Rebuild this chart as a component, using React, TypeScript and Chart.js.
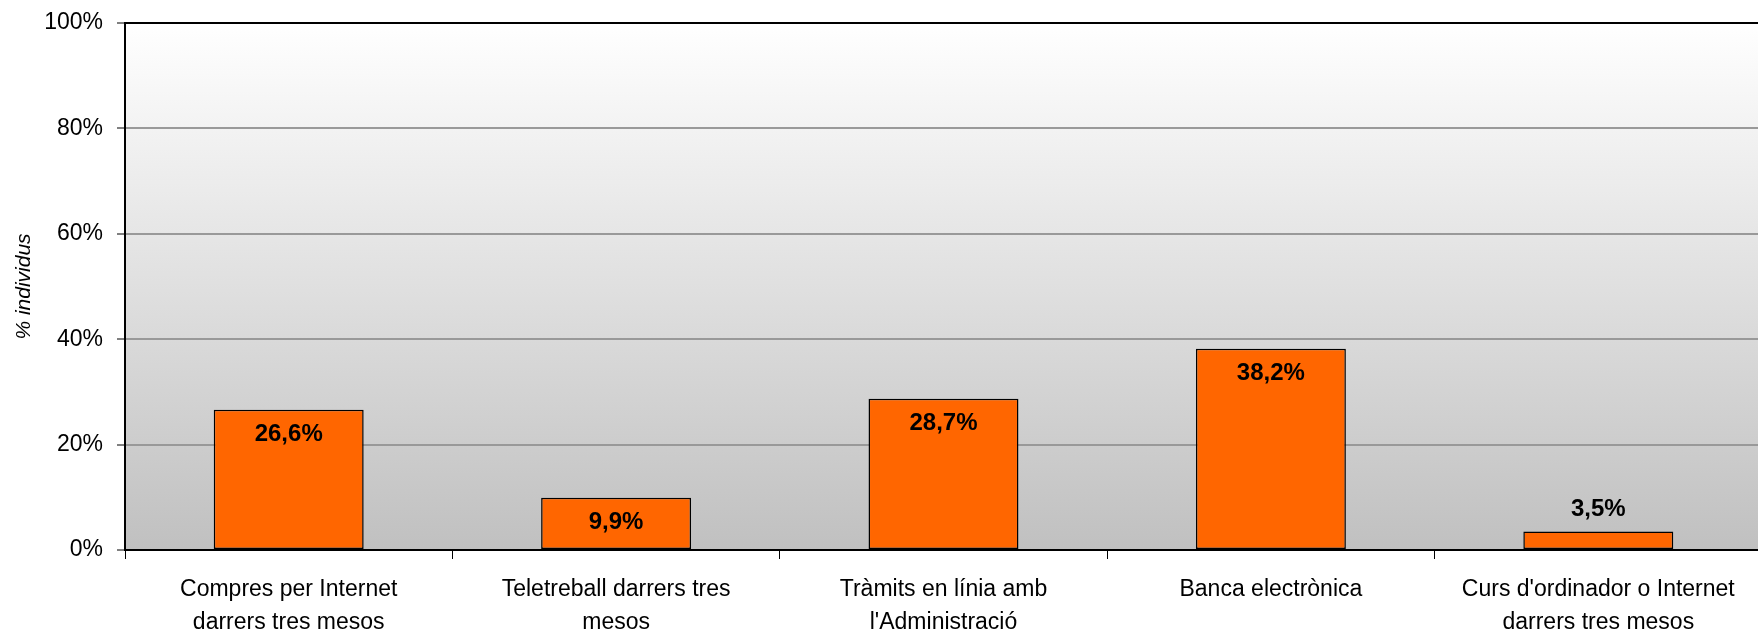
import React, { useEffect, useRef } from "react";
import { Chart, registerables } from "chart.js";

Chart.register(...registerables);

const categories: string[][] = [
  ["Compres per Internet", "darrers tres mesos"],
  ["Teletreball darrers tres", "mesos"],
  ["Tràmits en línia amb", "l'Administració"],
  ["Banca electrònica"],
  ["Curs d'ordinador o Internet", "darrers tres mesos"],
];
const values: number[] = [26.6, 9.9, 28.7, 38.2, 3.5];
const yTicks: number[] = [0, 20, 40, 60, 80, 100];
const yTitle = "% individus";

const FONT = "'Liberation Sans', Arial, sans-serif";

const backgroundPlugin = {
  id: "plotBg",
  beforeDraw(chart: any) {
    const { ctx, chartArea } = chart;
    if (!chartArea) return;
    const g = ctx.createLinearGradient(0, chartArea.top, 0, chartArea.bottom);
    g.addColorStop(0, "#ffffff");
    g.addColorStop(1, "#c0c0c0");
    ctx.save();
    ctx.fillStyle = g;
    ctx.fillRect(chartArea.left, chartArea.top, chartArea.right - chartArea.left, chartArea.bottom - chartArea.top);
    ctx.restore();
  },
};

const valueLabelPlugin = {
  id: "valueLabels",
  afterDatasetsDraw(chart: any) {
    const { ctx } = chart;
    const meta = chart.getDatasetMeta(0);
    ctx.save();
    ctx.font = `bold 24px ${FONT}`;
    ctx.fillStyle = "#000";
    ctx.textAlign = "center";
    ctx.textBaseline = "middle";
    meta.data.forEach((bar: any, i: number) => {
      const v = values[i];
      const txt = v.toFixed(1).replace(".", ",") + "%";
      const h = bar.base - bar.y;
      const y = h > 40 ? bar.y + 25 : bar.y - 22;
      ctx.fillText(txt, bar.x, y);
    });
    ctx.restore();
  },
};

export default function App() {
  const ref = useRef<HTMLCanvasElement | null>(null);
  useEffect(() => {
    if (!ref.current) return;
    const chart = new Chart(ref.current, {
      type: "bar",
      data: {
        labels: categories,
        datasets: [
          {
            data: values,
            backgroundColor: "#ff6600",
            borderColor: "#000000",
            borderWidth: 1.5,
            borderSkipped: false,
            categoryPercentage: 1,
            barPercentage: 0.458,
          },
        ],
      },
      options: {
        animation: false,
        responsive: true,
        maintainAspectRatio: false,
        layout: { padding: { top: 23, left: 0, right: 0, bottom: 0 } },
        plugins: {
          legend: { display: false },
          tooltip: { enabled: false },
        },
        scales: {
          x: {
            offset: true,
            grid: {
              display: true,
              offset: true,
              drawOnChartArea: false,
              drawTicks: true,
              tickLength: 9,
              tickColor: "#000",
              tickWidth: 1,
            },
            border: { display: true, color: "#000", width: 2 },
            ticks: {
              color: "#000",
              padding: 14,
              maxRotation: 0,
              minRotation: 0,
              autoSkip: false,
              font: { family: FONT, size: 23, lineHeight: 1.45 },
            },
            afterFit(scale: any) {
              scale.height = 84;
              scale.paddingLeft = 0;
              scale.paddingRight = 0;
            },
          },
          y: {
            min: 0,
            max: 100,
            afterBuildTicks(scale: any) {
              scale.ticks = yTicks.map((v) => ({ value: v }));
            },
            grid: {
              color: (c: any) => (c.tick && c.tick.value === 100 ? "#000" : "#999999"),
              lineWidth: 2,
              tickLength: 8,
              tickColor: "#000",
              tickWidth: 1,
            },
            border: { display: true, color: "#000", width: 2 },
            ticks: {
              color: "#000",
              padding: 14,
              font: { family: FONT, size: 23 },
              callback: (v: any) => `${v}%`,
            },
            title: {
              display: true,
              text: yTitle,
              color: "#000",
              padding: { top: 12, bottom: 0 },
              font: { family: FONT, size: 21, style: "italic" },
            },
            afterFit(scale: any) {
              scale.width = 125;
              scale.paddingTop = 0;
              scale.paddingBottom = 0;
            },
          },
        },
      },
      plugins: [backgroundPlugin, valueLabelPlugin],
    });
    return () => chart.destroy();
  }, []);

  return (
    <div style={{ position: "fixed", left: 0, top: 0, width: 1758, height: 634, overflow: "hidden", background: "#fff" }}>
      <div style={{ position: "absolute", left: 0, top: 0, width: 1762, height: 634 }}>
        <canvas ref={ref} />
      </div>
    </div>
  );
}
